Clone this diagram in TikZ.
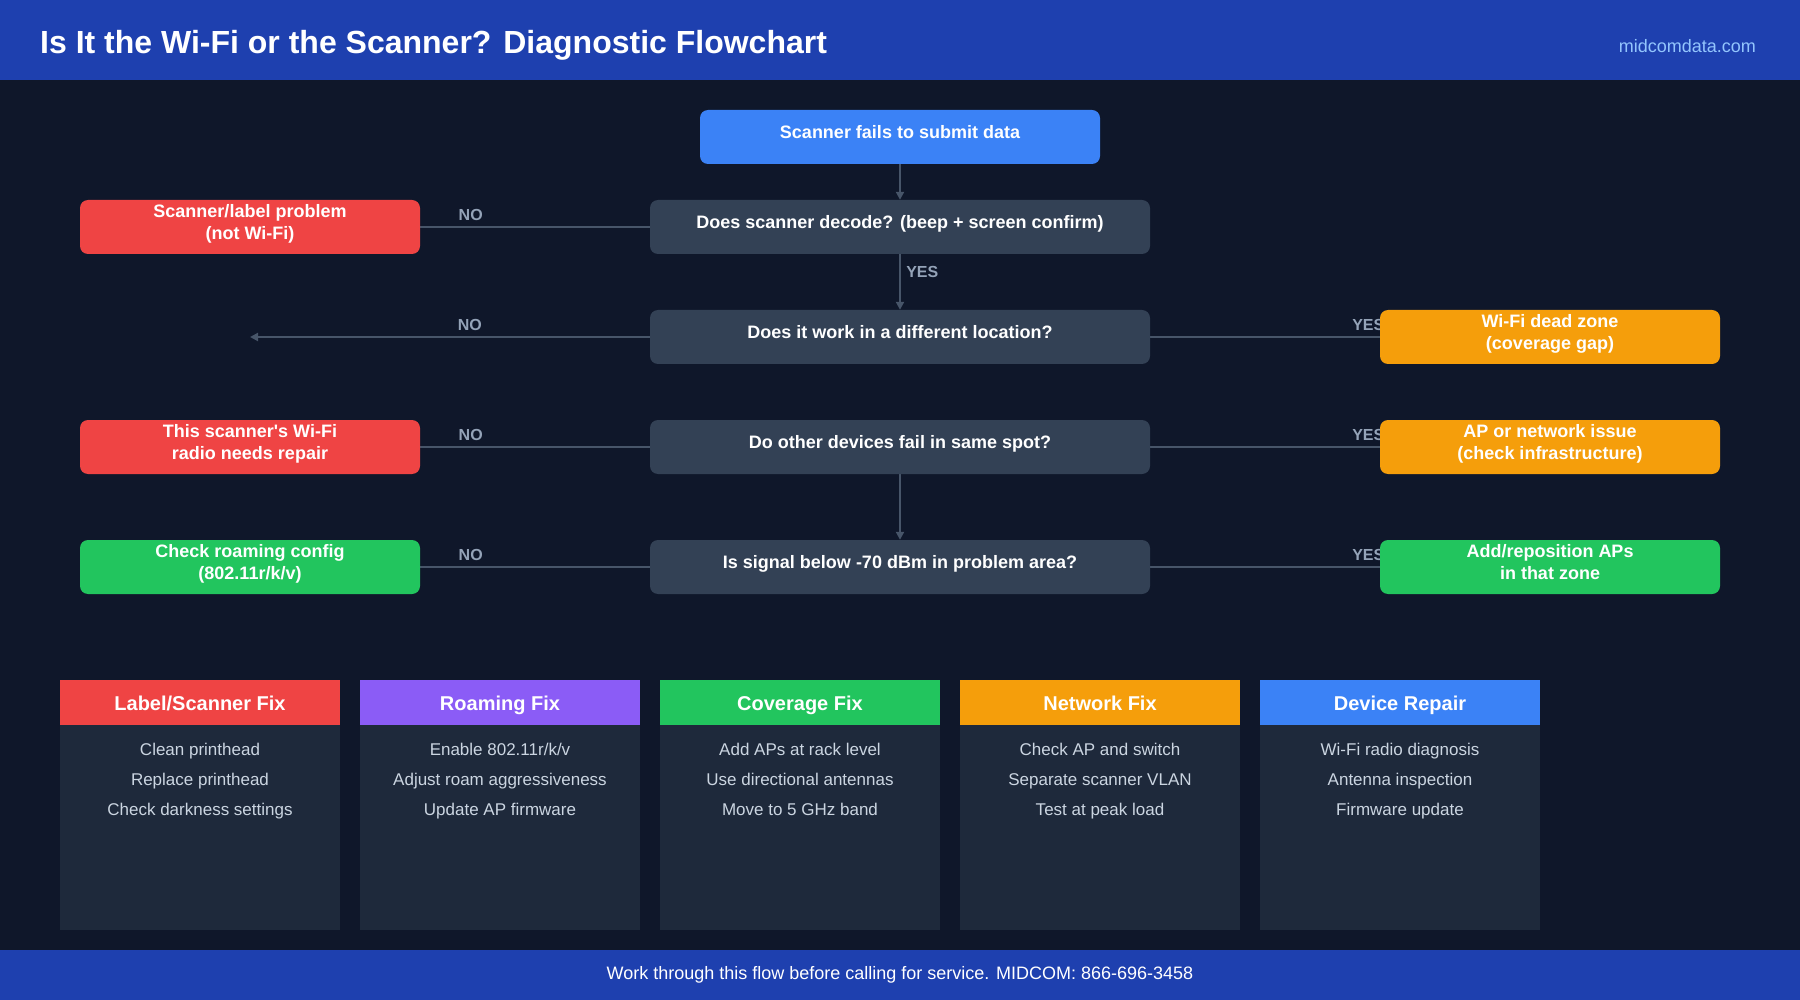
\documentclass[tikz,border=0pt]{standalone}
\usepackage{fontspec}
\setmainfont{Liberation Sans}
\usetikzlibrary{arrows.meta, positioning, backgrounds}

\definecolor{hdrblue}{HTML}{1E40AF}
\definecolor{pagebg}{HTML}{0F172A}
\definecolor{askgray}{HTML}{334155}
\definecolor{cardbg}{HTML}{1E293B}
\definecolor{linegray}{HTML}{475569}
\definecolor{lblgray}{HTML}{94A3B8}
\definecolor{itemgray}{HTML}{CBD5E1}
\definecolor{linkblue}{HTML}{93C5FD}
\definecolor{startblue}{HTML}{3B82F6}
\definecolor{fixred}{HTML}{EF4444}
\definecolor{fixorange}{HTML}{F59E0B}
\definecolor{fixgreen}{HTML}{22C55E}
\definecolor{fixpurple}{HTML}{8B5CF6}

\begin{document}
\begin{tikzpicture}[x=1pt, y=-1pt,
    flowbox/.style={rounded corners=8pt, minimum height=54pt, inner sep=0pt, align=center,
        text=white, text depth=10.4pt, font=\bfseries\fontsize{18}{22}\selectfont},
    startbox/.style={flowbox, fill=startblue, minimum width=400pt},
    askbox/.style={flowbox, fill=askgray, minimum width=500pt},
    endbox/.style={flowbox, minimum width=340pt},
    conn/.style={draw=linegray, line width=2.5pt},
    arr/.style={conn, -{Triangle[length=8pt, width=8pt]}},
    anslbl/.style={text=lblgray, inner sep=0pt, font=\bfseries\fontsize{16}{18}\selectfont},
    cardhead/.style={minimum width=280pt, minimum height=45pt, inner sep=0pt, text=white,
        text height=14.5pt, text depth=4pt, font=\bfseries\fontsize{20}{24}\selectfont},
    cardbody/.style={fill=cardbg, minimum width=280pt, minimum height=205pt, inner sep=0pt},
    itemtxt/.style={text=itemgray, inner sep=0pt, text height=12.2pt, text depth=3.6pt,
        font=\fontsize{17}{20}\selectfont}]
    \useasboundingbox (0,0) rectangle (1800,1000);
    \begin{scope}[on background layer]
        \fill[pagebg] (0,0) rectangle (1800,1000);
    \end{scope}
    \fill[hdrblue] (0,0) rectangle (1800,80);
    \fill[hdrblue] (0,950) rectangle (1800,1000);
    \node[anchor=west, inner sep=0pt, text=white, font=\bfseries\fontsize{32}{36}\selectfont] (title) at (40,45)
        {Is It the Wi-Fi or the Scanner? Diagnostic Flowchart};
    \node[anchor=east, inner sep=0pt, text=linkblue, font=\fontsize{18}{21}\selectfont] (site) at (1756,46) {midcomdata.com};
    \node[text=white, inner sep=0pt, font=\fontsize{18}{21}\selectfont] (foot) at (900,975)
        {Work through this flow before calling for service. MIDCOM: 866-696-3458};

    \node[startbox] (start) at (900,137) {Scanner fails to submit data};
    \node[askbox] (ask1) at (900,227) {Does scanner decode? (beep + screen confirm)};
    \node[askbox] (ask2) at (900,337) {Does it work in a different location?};
    \node[askbox] (ask3) at (900,447) {Do other devices fail in same spot?};
    \node[askbox] (ask4) at (900,567) {Is signal below -70 dBm in problem area?};

    \node[endbox, fill=fixred] (label) at (250,227) {Scanner/label problem\\(not Wi-Fi)};
    \node[endbox, fill=fixorange] (dead) at (1550,337) {Wi-Fi dead zone\\(coverage gap)};
    \node[endbox, fill=fixred] (radio) at (250,447) {This scanner\textquotesingle s Wi-Fi\\radio needs repair};
    \node[endbox, fill=fixorange] (infra) at (1550,447) {AP or network issue\\(check infrastructure)};
    \node[endbox, fill=fixgreen] (roam) at (250,567) {Check roaming config\\(802.11r/k/v)};
    \node[endbox, fill=fixgreen] (addap) at (1550,567) {Add/reposition APs\\in that zone};
    \coordinate (loose) at (250,337);

    \begin{scope}[on background layer]
        \draw[arr] (start.south) -- (ask1.north);
        \draw[arr] (ask1.south) -- node[anslbl, pos=0.32, right=5pt] (yes1) {YES} (ask2.north);
        \draw[arr] (ask3.south) -- (ask4.north);
        \draw[conn] (ask1.west) -- node[anslbl, pos=0.78, above=5pt] (no1) {NO} (label.east);
        \draw[arr] (ask2.west) -- node[anslbl, pos=0.45, above=5pt] (no2) {NO} (loose);
        \draw[conn] (ask2.east) -- node[anslbl, pos=0.95, above=5pt] (yes2) {YES} (dead.west);
        \draw[conn] (ask3.west) -- node[anslbl, pos=0.78, above=5pt] (no3) {NO} (radio.east);
        \draw[conn] (ask3.east) -- node[anslbl, pos=0.95, above=5pt] (yes3) {YES} (infra.west);
        \draw[conn] (ask4.west) -- node[anslbl, pos=0.78, above=5pt] (no4) {NO} (roam.east);
        \draw[conn] (ask4.east) -- node[anslbl, pos=0.95, above=5pt] (yes4) {YES} (addap.west);
    \end{scope}

    \foreach \cx/\col/\ttl/\ia/\ib/\ic [count=\i] in {
        200/fixred/{Label/Scanner Fix}/{Clean printhead}/{Replace printhead}/{Check darkness settings},
        500/fixpurple/{Roaming Fix}/{Enable 802.11r/k/v}/{Adjust roam aggressiveness}/{Update AP firmware},
        800/fixgreen/{Coverage Fix}/{Add APs at rack level}/{Use directional antennas}/{Move to 5 GHz band},
        1100/fixorange/{Network Fix}/{Check AP and switch}/{Separate scanner VLAN}/{Test at peak load},
        1400/startblue/{Device Repair}/{Wi-Fi radio diagnosis}/{Antenna inspection}/{Firmware update}} {
        \node[cardhead, fill=\col] (head\i) at (\cx,702.5) {};
        \node[cardbody, below=0pt of head\i] (body\i) {};
        \node[cardhead] (headtxt\i) at (\cx,705) {\ttl};
        \node[itemtxt] (itema\i) at (\cx,751) {\ia};
        \node[itemtxt] (itemb\i) at (\cx,781) {\ib};
        \node[itemtxt] (itemc\i) at (\cx,811) {\ic};
    }
\end{tikzpicture}
\end{document}
